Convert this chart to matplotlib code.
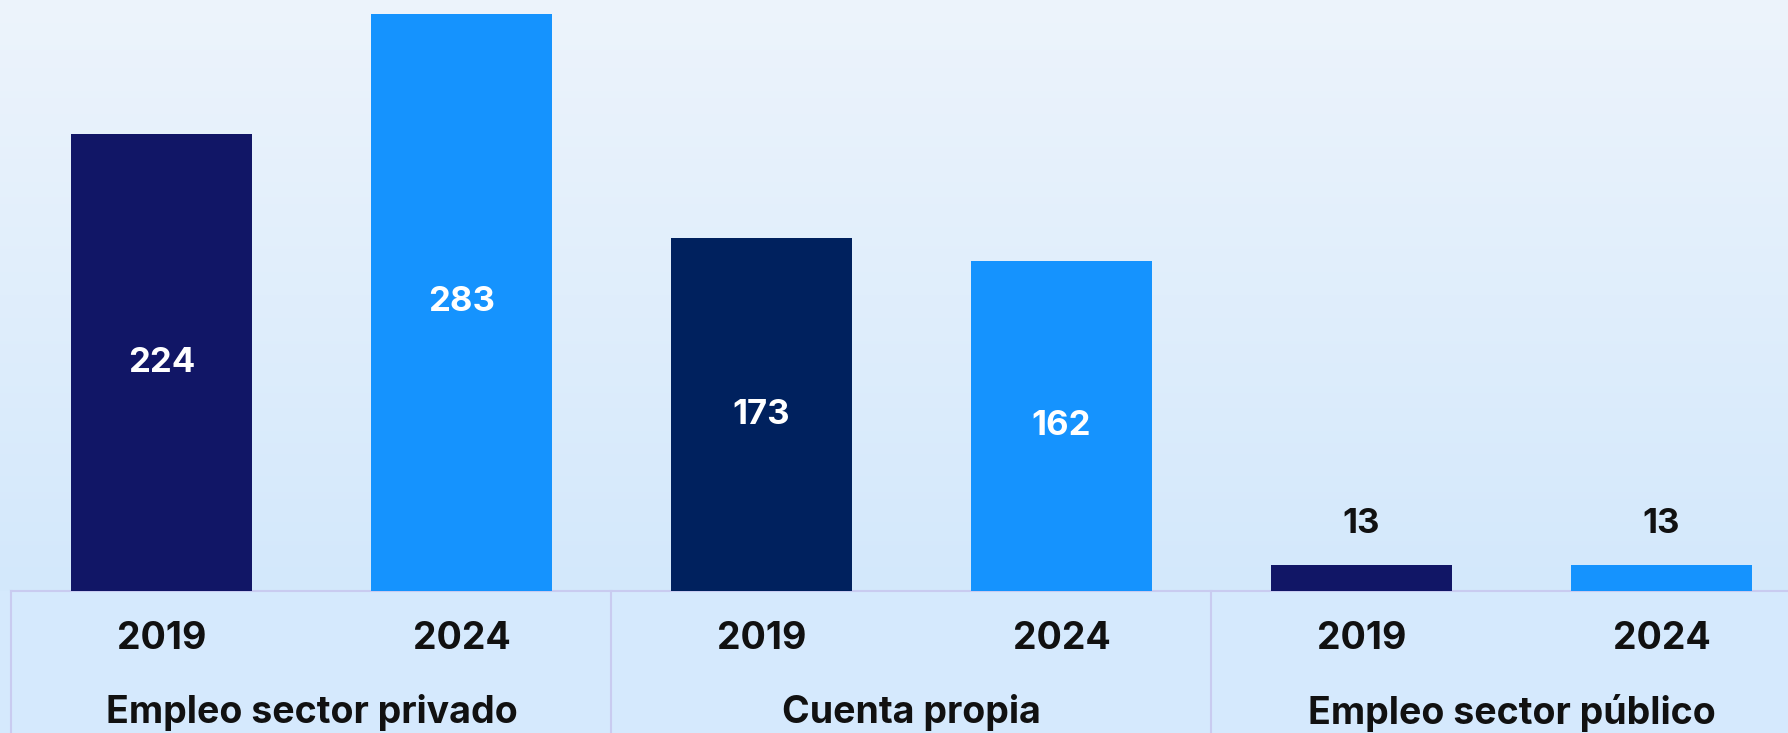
import matplotlib.pyplot as plt
import matplotlib.colors as mcolors
import numpy as np

plt.rcParams['font.family'] = ['Inter', 'DejaVu Sans']

categories = ['Empleo sector privado', 'Cuenta propia', 'Empleo sector público']
years = ['2019', '2024']
values_2019 = [224, 173, 13]
values_2024 = [283, 162, 13]

c2019 = ['#111666', '#00215E', '#111666']
c2024 = '#1593FE'

fig = plt.figure(figsize=(17.88, 7.33), dpi=100)
ax = fig.add_axes([0, 0, 1, 1])

x_left, x_right = -0.538, 5.422
y_bot, y_top = -69.6, 289.8

# background gradient
grad = np.linspace(0, 1, 256).reshape(-1, 1)
cmap = mcolors.LinearSegmentedColormap.from_list('bg', ['#D3E8FC', '#EDF4FB'])
ax.imshow(grad, extent=[x_left, x_right, 0, y_top], origin='lower',
          aspect='auto', cmap=cmap, zorder=0)

# table area under the bars
ax.fill_between([x_left, x_right], y_bot, 0, color='#D5E9FD', zorder=0.5, lw=0)
line_c = '#C9CBF0'
ax.plot([-0.5, x_right], [0, 0], color=line_c, lw=1.5, zorder=1)
for g in range(len(categories)):
    ax.plot([2 * g - 0.5] * 2, [y_bot, 0], color=line_c, lw=1.5, zorder=1)

width = 0.603
for i, cat in enumerate(categories):
    for j, (v, col) in enumerate([(values_2019[i], c2019[i]), (values_2024[i], c2024)]):
        x = 2 * i + j
        ax.bar(x, v, width, color=col, zorder=2)
        if v > 50:
            ax.text(x, v / 2, str(v), ha='center', va='center', color='white',
                    fontsize=25, fontweight='bold', zorder=3)
        else:
            ax.annotate(str(v), (x, v), xytext=(0, 29), textcoords='offset points',
                        ha='center', va='center', color='#111111',
                        fontsize=25, fontweight='bold', zorder=3)
        ax.text(x, -23.3, years[j], ha='center', va='center', color='#111111',
                fontsize=27, fontweight='bold', zorder=3)
    ax.text(2 * i + 0.5, -59.7, cat, ha='center', va='center', color='#111111',
            fontsize=27, fontweight='bold', zorder=3)

ax.set_xlim(x_left, x_right)
ax.set_ylim(y_bot, y_top)
ax.axis('off')

fig.savefig('out.png', dpi=100)
